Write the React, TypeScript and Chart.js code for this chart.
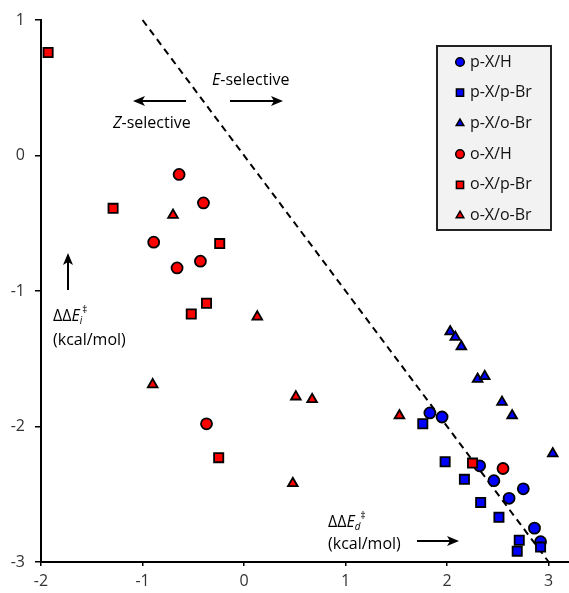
import React, { useEffect, useRef } from "react";
import { Chart, registerables } from "chart.js";
import { drawPoint } from "chart.js/helpers";

Chart.register(...registerables);

const FONT = '"Open Sans", "Liberation Sans", sans-serif';

const seriesLabels = ["p-X/H", "p-X/p-Br", "p-X/o-Br", "o-X/H", "o-X/p-Br", "o-X/o-Br"];
const seriesColors = ["#0000ff", "#0000ff", "#0000ff", "#ff0000", "#ff0000", "#ff0000"];
const seriesStyles = ["circle", "rect", "triangle", "circle", "rect", "triangle"];
const seriesRadius = [5.5, 6.5, 5.6, 5.5, 6.5, 5.6];

const pXH_x = [1.83, 1.95, 2.32, 2.46, 2.61, 2.75, 2.86, 2.92];
const pXH_y = [-1.9, -1.93, -2.29, -2.4, -2.53, -2.46, -2.75, -2.85];
const pXpBr_x = [1.76, 1.98, 2.17, 2.33, 2.51, 2.71, 2.69, 2.92];
const pXpBr_y = [-1.98, -2.26, -2.39, -2.56, -2.67, -2.84, -2.92, -2.89];
const pXoBr_x = [2.03, 2.08, 2.14, 2.3, 2.37, 2.54, 2.64, 3.04];
const pXoBr_y = [-1.3, -1.34, -1.41, -1.65, -1.63, -1.82, -1.92, -2.2];
const oXH_x = [-0.64, -0.4, -0.89, -0.43, -0.66, -0.37, 2.55];
const oXH_y = [-0.14, -0.35, -0.64, -0.78, -0.83, -1.98, -2.31];
const oXpBr_x = [-1.93, -1.29, -0.24, -0.37, -0.52, -0.25, 2.25];
const oXpBr_y = [0.76, -0.39, -0.65, -1.09, -1.17, -2.23, -2.27];
const oXoBr_x = [-0.7, 0.13, -0.9, 0.51, 0.67, 0.48, 1.53];
const oXoBr_y = [-0.44, -1.19, -1.69, -1.78, -1.8, -2.42, -1.92];

const seriesX = [pXH_x, pXpBr_x, pXoBr_x, oXH_x, oXpBr_x, oXoBr_x];
const seriesY = [pXH_y, pXpBr_y, pXoBr_y, oXH_y, oXpBr_y, oXoBr_y];

const dividerX = [-1, 3];
const dividerY = [1, -3];

const xTicks = [-2, -1, 0, 1, 2, 3];
const yTicks = [1, 0, -1, -2, -3];

type Part = { t: string; italic?: boolean; small?: boolean; dy?: number; dx?: number };

function rich(ctx: CanvasRenderingContext2D, x: number, y: number, parts: Part[], size: number) {
  let cx = x;
  ctx.textBaseline = "middle";
  ctx.textAlign = "left";
  for (const p of parts) {
    const s = p.small ? size * 0.62 : size;
    ctx.font = `${p.italic ? "italic " : ""}${s}px ${FONT}`;
    cx += p.dx || 0;
    ctx.fillText(p.t, cx, y + (p.dy || 0));
    cx += ctx.measureText(p.t).width;
  }
}

function arrow(ctx: CanvasRenderingContext2D, x1: number, y1: number, x2: number, y2: number) {
  const ang = Math.atan2(y2 - y1, x2 - x1);
  const L = 12, W = 5, notch = 3;
  ctx.beginPath();
  ctx.moveTo(x1, y1);
  ctx.lineTo(x2 - Math.cos(ang) * (L - notch), y2 - Math.sin(ang) * (L - notch));
  ctx.stroke();
  ctx.save();
  ctx.translate(x2, y2);
  ctx.rotate(ang);
  ctx.beginPath();
  ctx.moveTo(0, 0);
  ctx.lineTo(-L, -W);
  ctx.lineTo(-L + notch, 0);
  ctx.lineTo(-L, W);
  ctx.closePath();
  ctx.fill();
  ctx.restore();
}

const overlayPlugin = {
  id: "overlay",
  afterDraw(chart: any) {
    const ctx: CanvasRenderingContext2D = chart.ctx;
    ctx.save();
    ctx.fillStyle = "#000";
    ctx.strokeStyle = "#000";
    ctx.lineWidth = 2;
    const size = 16;

    // selectivity annotations
    rich(ctx, 212, 80, [{ t: "E", italic: true }, { t: "-selective" }], size);
    rich(ctx, 113, 123, [{ t: "Z", italic: true }, { t: "-selective" }], size);
    arrow(ctx, 186, 101, 133, 101);
    arrow(ctx, 230, 101, 283, 101);

    // y-axis title
    arrow(ctx, 68, 290, 68, 253);
    rich(ctx, 53, 316, [{ t: "ΔΔ" }, { t: "E", italic: true }, { t: "i", italic: true, small: true, dy: 5 }, { t: "‡", small: true, dy: -6, dx: 0 }], size);
    rich(ctx, 53, 340, [{ t: "(kcal/mol)" }], size);

    // x-axis title
    rich(ctx, 328, 522, [{ t: "ΔΔ" }, { t: "E", italic: true }, { t: "d", italic: true, small: true, dy: 5 }, { t: "‡", small: true, dy: -6 }], size);
    rich(ctx, 328, 544, [{ t: "(kcal/mol)" }], size);
    arrow(ctx, 417, 541, 459, 541);

    // legend box
    const bx = 437, by = 46, bw = 114, bh = 184;
    ctx.fillStyle = "#f2f2f2";
    ctx.fillRect(bx, by, bw, bh);
    ctx.lineWidth = 2;
    ctx.strokeStyle = "#222";
    ctx.strokeRect(bx, by, bw, bh);
    const datasets = chart.data.datasets.filter((d: any) => d.label);
    datasets.forEach((d: any, i: number) => {
      const y = 62 + i * 30.7;
      ctx.fillStyle = d.backgroundColor;
      ctx.strokeStyle = "#000";
      ctx.lineWidth = 1.5;
      drawPoint(ctx, { pointStyle: d.pointStyle, radius: d.pointRadius * 0.78, rotation: 0, borderWidth: 1.5 } as any, 460, y);
      ctx.fillStyle = "#111";
      ctx.font = `${size}px ${FONT}`;
      ctx.textBaseline = "middle";
      ctx.textAlign = "left";
      ctx.fillText(d.label, 470, y);
    });
    ctx.restore();
  },
};

export default function App() {
  const ref = useRef<HTMLCanvasElement | null>(null);
  useEffect(() => {
    if (!ref.current) return;
    const datasets: any[] = seriesLabels.map((label, i) => ({
      type: "scatter",
      label,
      data: seriesX[i].map((x, j) => ({ x, y: seriesY[i][j] })),
      backgroundColor: seriesColors[i],
      borderColor: "#000",
      borderWidth: 1.8,
      pointStyle: seriesStyles[i],
      pointRadius: seriesRadius[i],
      pointHoverRadius: seriesRadius[i],
      order: 6 - i,
      clip: false,
    }));
    datasets.push({
      type: "line",
      label: "",
      data: dividerX.map((x, j) => ({ x, y: dividerY[j] })),
      borderColor: "#000",
      borderWidth: 2,
      borderDash: [7, 5],
      pointRadius: 0,
      fill: false,
      order: 20,
      clip: false,
    });
    const tickFont = { family: FONT, size: 16 };
    const chart = new Chart(ref.current, {
      type: "scatter",
      data: { datasets },
      options: {
        animation: false,
        responsive: false,
        devicePixelRatio: 1,
        layout: { autoPadding: false, padding: { top: 20, right: 0, left: 0, bottom: 0 } },
        plugins: { legend: { display: false }, tooltip: { enabled: false } },
        scales: {
          x: {
            type: "linear",
            min: -2,
            max: 3.2,
            afterBuildTicks: (s: any) => { s.ticks = xTicks.map((v) => ({ value: v })); },
            afterFit: (s: any) => { s.height = 31; },
            ticks: { font: tickFont, color: "#333", padding: 6, includeBounds: false, callback: (v: any) => String(v) },
            grid: { display: true, drawOnChartArea: false, drawTicks: true, tickLength: 4, color: "#000", lineWidth: 1.5 },
            border: { display: true, color: "#000", width: 2 },
          },
          y: {
            type: "linear",
            min: -3,
            max: 1,
            afterBuildTicks: (s: any) => { s.ticks = yTicks.map((v) => ({ value: v })); },
            afterFit: (s: any) => { s.width = 41; },
            ticks: { font: tickFont, color: "#333", padding: 10, includeBounds: false, callback: (v: any) => String(v) },
            grid: { display: true, drawOnChartArea: false, drawTicks: true, tickLength: 6, color: "#000", lineWidth: 1.5 },
            border: { display: true, color: "#000", width: 2 },
          },
        },
      },
      plugins: [overlayPlugin],
    } as any);
    return () => chart.destroy();
  }, []);
  return (
    <div style={{ position: "absolute", left: 0, top: 0, width: 569, height: 593, background: "#fff" }}>
      <canvas ref={ref} width={569} height={593} style={{ width: 569, height: 593, display: "block" }} />
    </div>
  );
}
